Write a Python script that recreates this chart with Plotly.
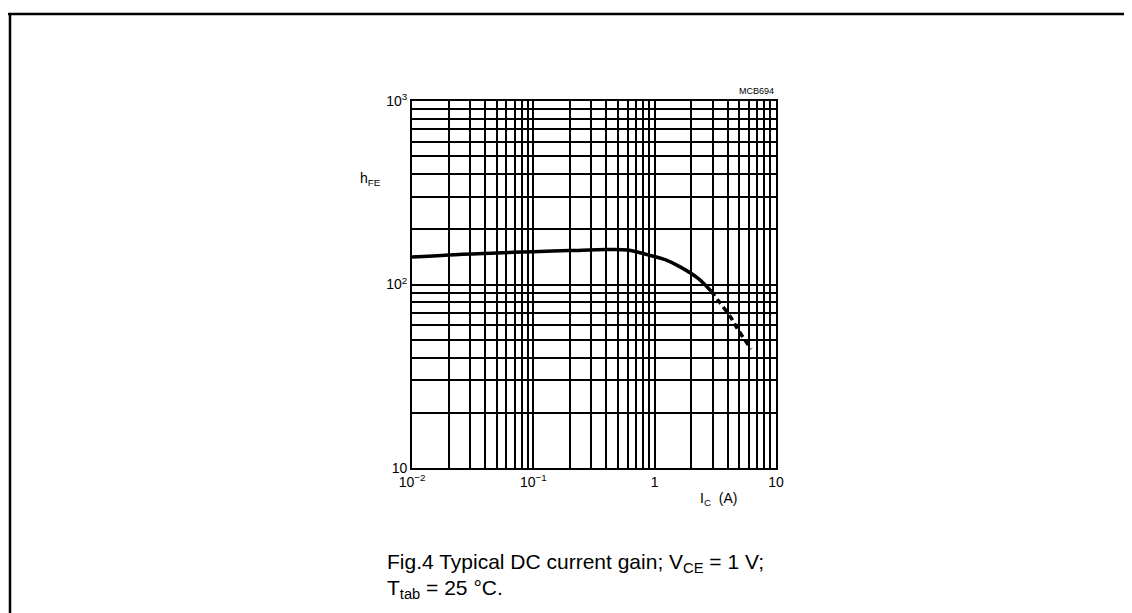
import plotly.graph_objects as go

# ---- data ----
ic_solid = [0.01, 0.02, 0.05, 0.1, 0.2, 0.4, 0.6, 0.88, 1.22, 1.65, 2.28, 2.92]
hfe_solid = [141, 145, 148.5, 151, 153, 155, 154, 145, 136.5, 124, 108, 92]
ic_dash = [2.92, 3.33, 4.19, 4.88, 6.24]
hfe_dash = [92, 82, 67, 56.5, 44.5]

x_major = [0.01, 0.1, 1, 10]
x_major_text = ["10<sup>−2</sup>", "10<sup>−1</sup>", "1", "10"]
y_major = [10, 100, 1000]
y_major_text = ["10", "10<sup>2</sup>", "10<sup>3</sup>"]
x_minor = [m * 10 ** e for e in (-2, -1, 0) for m in range(2, 10)]
y_minor = [m * 10 ** e for e in (1, 2) for m in range(2, 10)]

W, H = 1132, 613
L, R, T, B = 404, 768, 93, 460


def px(xp):
    return (xp - L) / (R - L)


def py(yp):
    return (B - yp) / (B - T)


fig = go.Figure()
fig.add_trace(go.Scatter(x=ic_solid, y=hfe_solid, mode="lines",
                         line=dict(color="black", width=3.5, shape="spline"),
                         showlegend=False, hoverinfo="skip"))
fig.add_trace(go.Scatter(x=ic_dash, y=hfe_dash, mode="lines",
                         line=dict(color="black", width=3.5, dash="6px,4px", shape="spline"),
                         showlegend=False, hoverinfo="skip"))

tickfont = dict(family="Liberation Sans, Arial, sans-serif", size=14, color="black")
grid = dict(showgrid=True, gridcolor="black", gridwidth=1.8)
fig.update_xaxes(type="log", range=[-2, 1], tickvals=x_major, ticktext=x_major_text,
                 minor=dict(tickvals=x_minor, ticks="", **grid), **grid,
                 showline=True, linecolor="black", linewidth=1.8, mirror=True,
                 ticks="", tickfont=tickfont, zeroline=False)
fig.update_yaxes(type="log", range=[1, 3], tickvals=y_major, ticktext=y_major_text,
                 minor=dict(tickvals=y_minor, ticks="", **grid), **grid,
                 showline=True, linecolor="black", linewidth=1.8, mirror=True,
                 ticks="", tickfont=tickfont, zeroline=False)

ann_font = dict(family="Liberation Sans, Arial, sans-serif", color="black")
annotations = [
    dict(text="h<sub>FE</sub>", x=px(350), y=py(171), xanchor="left", yanchor="middle",
         font=dict(size=14, **ann_font)),
    dict(text="I<sub>C</sub>  (A)", x=px(690), y=py(491), xanchor="left", yanchor="middle",
         font=dict(size=14, **ann_font)),
    dict(text="MCB694", x=px(768), y=py(83), xanchor="right", yanchor="middle",
         font=dict(size=9, **ann_font)),
    dict(text="Fig.4 Typical DC current gain; V<sub>CE</sub> = 1 V;", x=px(377), y=py(555),
         xanchor="left", yanchor="middle", font=dict(size=21, **ann_font)),
    dict(text="T<sub>tab</sub> = 25 °C.", x=px(377), y=py(581),
         xanchor="left", yanchor="middle", font=dict(size=21, **ann_font)),
]
for a in annotations:
    a.update(xref="paper", yref="paper", showarrow=False)

border = [
    (0, 6, 1127, 6),
    (1127, 6, 1127, 613),
    (2, 6, 2, 613),
    (0, 612, 273, 612),
]
shapes = [dict(type="line", xref="paper", yref="paper",
               x0=px(a), y0=py(b), x1=px(c), y1=py(d),
               line=dict(color="black", width=2.5)) for a, b, c, d in border]

fig.update_layout(width=W, height=H, margin=dict(l=L, r=W - R, t=T, b=H - B),
                  paper_bgcolor="white", plot_bgcolor="white",
                  annotations=annotations, shapes=shapes, showlegend=False)

fig.write_html("out.html")
